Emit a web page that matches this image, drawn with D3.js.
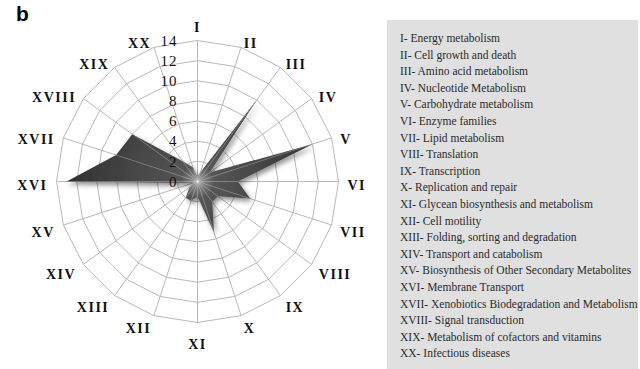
<!DOCTYPE html>
<html>
<head>
<meta charset="utf-8">
<script src="https://cdn.jsdelivr.net/npm/d3@7"></script>
<style>
  body { margin: 0; background: #fff; }
  svg { display: block; }
</style>
</head>
<body>
<svg id="chart" width="640" height="369"></svg>
<script>
const numerals = ["I", "II", "III", "IV", "V", "VI", "VII", "VIII", "IX", "X",
  "XI", "XII", "XIII", "XIV", "XV", "XVI", "XVII", "XVIII", "XIX", "XX"]
const pathways = ["Energy metabolism", "Cell growth and death", "Amino acid metabolism",
  "Nucleotide Metabolism", "Carbohydrate metabolism", "Enzyme families", "Lipid metabolism",
  "Translation", "Transcription", "Replication and repair", "Glycean biosynthesis and metabolism",
  "Cell motility", "Folding, sorting and degradation", "Transport and catabolism",
  "Biosynthesis of Other Secondary Metabolites", "Membrane Transport",
  "Xenobiotics Biodegradation and Metabolism", "Signal transduction",
  "Metabolism of cofactors and vitamins", "Infectious diseases"]
const counts = [0.5, 1, 10, 1.5, 12, 4, 5.5, 2.5, 2.5, 5.3,
  1.5, 2, 2, 1, 0.5, 13, 8.5, 8, 2.5, 1.5]
const ticks = [0, 2, 4, 6, 8, 10, 12, 14]

const svg = d3.select("#chart")
const cx = 197.5, cy = 181.5, R = 141

const r = d3.scaleLinear().domain([0, 14]).range([0, R])
const angle = d3.scaleLinear().domain([0, numerals.length]).range([0, 2 * Math.PI])
const pt = (i, v) => [cx + r(v) * Math.sin(angle(i)), cy - r(v) * Math.cos(angle(i))]

// panel letter
svg.append("text").attr("x", 16).attr("y", 21)
  .style("font", "bold 21px 'Liberation Sans', Arial, sans-serif").text("b")

const defs = svg.append("defs")
const grad = defs.append("radialGradient").attr("id", "fillGrad")
  .attr("gradientUnits", "userSpaceOnUse")
  .attr("cx", cx).attr("cy", cy).attr("r", R)
grad.append("stop").attr("offset", 0).attr("stop-color", "#9a9a9a")
grad.append("stop").attr("offset", 0.12).attr("stop-color", "#555")
grad.append("stop").attr("offset", 1).attr("stop-color", "#2e2e2e")
const shadow = defs.append("filter").attr("id", "shadow")
  .attr("x", "-20%").attr("y", "-20%").attr("width", "140%").attr("height", "140%")
shadow.append("feDropShadow").attr("dx", 2).attr("dy", 3).attr("stdDeviation", 2.5)
  .attr("flood-color", "#000").attr("flood-opacity", 0.45)

const line = d3.line()

// grid rings (polygons)
const grid = svg.append("g").attr("fill", "none").attr("stroke", "#b9b9b9").attr("stroke-width", 1)
ticks.slice(1).forEach(t => {
  grid.append("path").attr("d", line(numerals.map((_, i) => pt(i, t))) + "Z")
})
numerals.forEach((_, i) => {
  grid.append("path").attr("d", line([[cx, cy], pt(i, 14)]))
})

// data area
const areaPath = line(counts.map((v, i) => pt(i, v))) + "Z"
svg.append("path").attr("d", areaPath)
  .attr("fill", "url(#fillGrad)").attr("filter", "url(#shadow)")
defs.append("clipPath").attr("id", "areaClip").append("path").attr("d", areaPath)
const hl = svg.append("g").attr("clip-path", "url(#areaClip)")
  .attr("stroke", "#fff").attr("stroke-opacity", 0.28).attr("stroke-width", 1)
counts.forEach((v, i) => {
  hl.append("path").attr("d", line([[cx, cy], pt(i, 14)]))
})

// radial tick labels
svg.append("g").selectAll("text").data(ticks).join("text")
  .attr("x", cx - 20).attr("y", d => cy - r(d))
  .attr("dy", "0.35em").attr("text-anchor", "end")
  .style("font", "15px 'Liberation Serif', 'Times New Roman', serif")
  .attr("letter-spacing", 1)
  .attr("fill", "#111")
  .text(d => d)

// category labels: start on the right, end on the left, centred top and bottom
const gap = 150
svg.append("g").selectAll("text").data(numerals).join("text")
  .style("font", "bold 14px 'Liberation Serif', 'Times New Roman', serif")
  .attr("letter-spacing", 1.5)
  .attr("fill", "#111")
  .attr("dy", "0.35em")
  .each(function (d, i) {
    const a = angle(i), s = Math.sin(a), c = Math.cos(a)
    const vertical = Math.abs(s) < 0.01
    d3.select(this)
      .attr("text-anchor", vertical ? "middle" : (s > 0 ? "start" : "end"))
      .attr("x", cx + gap * s)
      .attr("y", cy - gap * c + 4 - (vertical ? 8.5 * c : 0))
  })
  .text(d => d)

// legend
const lg = svg.append("g")
lg.append("rect").attr("x", 387).attr("y", 20).attr("width", 251).attr("height", 352)
  .attr("fill", "#e0e0e0")
lg.selectAll("text").data(pathways).join("text")
  .attr("x", 400).attr("y", (d, i) => 42 + i * 16.6)
  .style("font", "11.5px 'Liberation Serif', 'Times New Roman', serif")
  .attr("fill", "#2a2a2a")
  .text((d, i) => `${numerals[i]}- ${d}`)
</script>
</body>
</html>
